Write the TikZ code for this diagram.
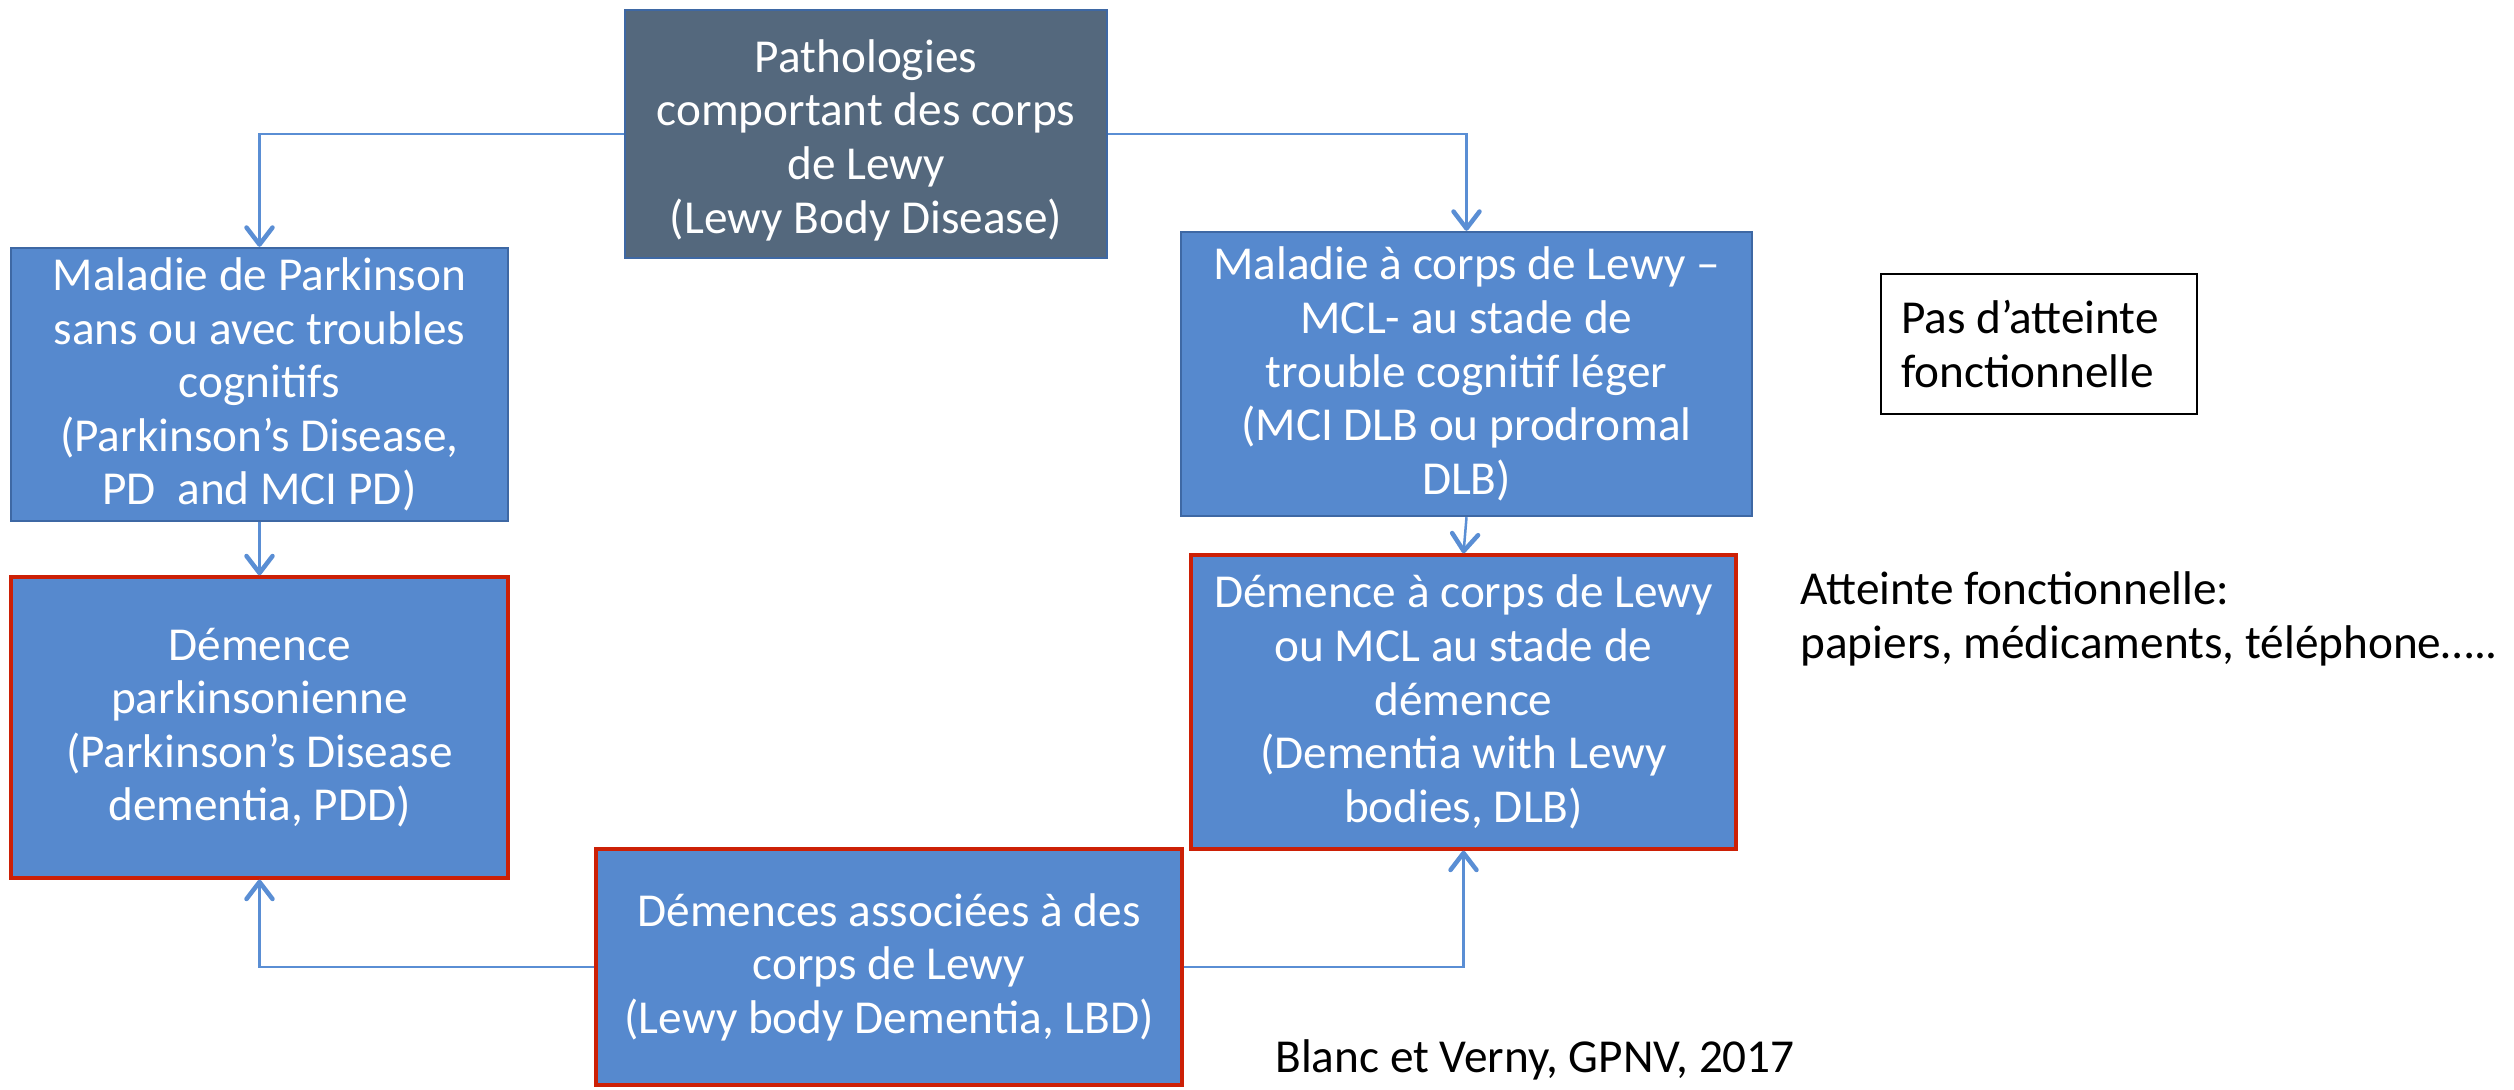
\documentclass[tikz,border=0pt]{standalone}
\usepackage{fontspec}
\setmainfont{Carlito}
\usetikzlibrary{arrows.meta}
\definecolor{boxblue}{RGB}{86,137,206}
\definecolor{boxedge}{RGB}{62,104,164}
\definecolor{slatefill}{RGB}{84,104,125}
\definecolor{redge}{RGB}{204,32,6}
\definecolor{linkcol}{RGB}{90,142,212}
\begin{document}
\begin{tikzpicture}[x=0.02cm,y=-0.02cm,
  every node/.style={font=\fontsize{26.9pt}{30.5pt}\selectfont},
  basebox/.style={rectangle, align=center, inner sep=0pt, text=white, fill=boxblue},
  bluebox/.style={basebox, draw=boxedge, line width=0.05cm},
  redbox/.style={basebox, draw=redge, line width=0.07cm},
  topbox/.style={basebox, fill=slatefill, draw=boxedge, line width=0.04cm},
  link/.style={draw=linkcol, line width=0.05cm,
    -{Straight Barb[length=0.34cm,width=0.52cm,round,line width=0.09cm]}},
  plaintext/.style={inner sep=0pt, align=left, text=black}
]
\useasboundingbox (0,0) rectangle (2514,1089);

\node[topbox, minimum width=9.64cm, minimum height=4.96cm] (top) at (866,134)
  {\rule{0pt}{0.9cm}Pathologies\\comportant des corps\\de Lewy\\(Lewy Body Disease)};

\node[bluebox, minimum width=9.94cm, minimum height=5.46cm] (lt) at (259.5,384.5)
  {Maladie de Parkinson\\sans ou avec troubles\\cognitifs\\(Parkinson’s Disease,\\PD~ and MCI PD)};

\node[redbox, minimum width=9.94cm, minimum height=6.02cm] (ll) at (259.5,727.5)
  {Démence\\parkinsonienne\\(Parkinson’s Disease\\dementia, PDD)};

\node[bluebox, minimum width=11.42cm, minimum height=5.68cm] (rt) at (1466.5,374)
  {Maladie à corps de Lewy –\\MCL- au stade de\\trouble cognitif léger\\(MCI DLB ou prodromal\\DLB)};

\node[redbox, minimum width=10.9cm, minimum height=5.88cm] (rl) at (1463.5,702)
  {Démence à corps de Lewy\\ou MCL au stade de\\démence\\(Dementia with Lewy\\bodies, DLB)};

\node[redbox, minimum width=11.72cm, minimum height=4.72cm] (bot) at (889,967)
  {Démences associées à des\\corps de Lewy\\(Lewy body Dementia, LBD)};

\node[draw=black, line width=0.03cm, align=flush left, text width=5.52cm, inner xsep=0.4cm,
  minimum height=2.8cm] (pas) at (2039,344) {Pas d’atteinte\\fonctionnelle};

\node[plaintext, anchor=base west] (att) at (1800,658)
  {Atteinte fonctionnelle:\\papiers, médicaments, téléphone…..};

\node[plaintext, anchor=base west] (ref) at (1275,1072) {Blanc et Verny, GPNV, 2017};

\draw[link] (top.west) -| (lt.north);
\draw[link] (top.east) -| (rt.north);
\draw[link] (lt.south) -- (ll.north);
\draw[link] (rt.south) -- (rl.north);
\draw[link] (bot.west) -| (ll.south);
\draw[link] (bot.east) -| (rl.south);
\end{tikzpicture}
\end{document}
